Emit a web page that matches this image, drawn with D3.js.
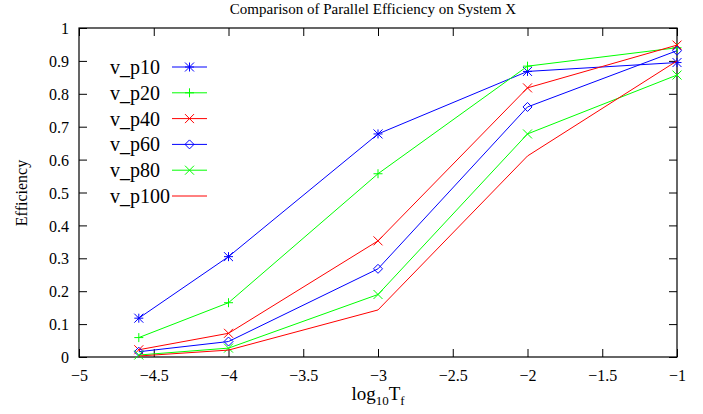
<!DOCTYPE html>
<html>
<head>
<meta charset="utf-8">
<script src="https://cdn.jsdelivr.net/npm/d3@7"></script>
<style>
  html, body { margin: 0; padding: 0; background: #fff; }
  svg { display: block; }
  text { font-family: "Liberation Serif", "Times New Roman", serif; fill: #000; }
</style>
</head>
<body>
<svg id="chart" width="703" height="414"></svg>
<script>
// ---- data ----
const xValues = [-4.6, -4, -3, -2, -1];
const seriesNames = ["v_p10", "v_p20", "v_p40", "v_p60", "v_p80", "v_p100"];
const vP10  = [0.118, 0.305, 0.678, 0.868, 0.895];
const vP20  = [0.059, 0.165, 0.557, 0.884, 0.940];
const vP40  = [0.022, 0.072, 0.353, 0.818, 0.948];
const vP60  = [0.016, 0.047, 0.268, 0.760, 0.931];
const vP80  = [0.006, 0.027, 0.190, 0.678, 0.857];
const vP100 = [0.003, 0.021, 0.143, 0.611, 0.900];
const seriesColors  = ["#0000ff", "#00ff00", "#ff0000", "#0000ff", "#00ff00", "#ff0000"];
const seriesMarkers = ["star", "plus", "cross", "diamond", "cross", "none"];
const xTicks = [-5, -4.5, -4, -3.5, -3, -2.5, -2, -1.5, -1];
const yTicks = [0, 0.1, 0.2, 0.3, 0.4, 0.5, 0.6, 0.7, 0.8, 0.9, 1];
const titleText = "Comparison of Parallel Efficiency on System X";
const yLabelText = "Efficiency";

const allSeries = [vP10, vP20, vP40, vP60, vP80, vP100];

// ---- layout ----
const svg = d3.select("#chart");
const L = 79, R = 677, T = 28, B = 357;
const x = d3.scaleLinear().domain([-5, -1]).range([L, R]);
const y = d3.scaleLinear().domain([0, 1]).range([B, T]);
const tickLen = 8;
const fmtX = d => (d < 0 ? "\u2212" : "") + String(Math.abs(d));
const fmtY = d => String(+d.toFixed(1));

// axes with inward ticks
const axisColor = "#000";
const gB = svg.append("g").attr("transform", `translate(0,${B})`)
  .call(d3.axisBottom(x).tickValues(xTicks).tickSize(-tickLen).tickPadding(10).tickFormat(fmtX));
const gT = svg.append("g").attr("transform", `translate(0,${T})`)
  .call(d3.axisTop(x).tickValues(xTicks).tickSize(-tickLen).tickFormat(""));
const gLft = svg.append("g").attr("transform", `translate(${L},0)`)
  .call(d3.axisLeft(y).tickValues(yTicks).tickSize(-tickLen).tickPadding(10).tickFormat(fmtY));
const gRt = svg.append("g").attr("transform", `translate(${R},0)`)
  .call(d3.axisRight(y).tickValues(yTicks).tickSize(-tickLen).tickFormat(""));
[gB, gT, gLft, gRt].forEach(g => {
  g.attr("font-family", "Liberation Serif");
  g.select(".domain").remove();
  g.selectAll(".tick line").attr("stroke", axisColor).attr("stroke-width", 1);
  g.selectAll(".tick text").attr("font-family", "Liberation Serif").attr("font-size", 16).attr("fill", "#000");
});
gB.selectAll(".tick text").attr("dy", "0.9em");
gLft.selectAll(".tick text").attr("dy", "0.35em");

// border
svg.append("rect").attr("x", L).attr("y", T).attr("width", R - L).attr("height", B - T)
  .attr("fill", "none").attr("stroke", axisColor).attr("stroke-width", 1.2);

// markers
function drawMarker(g, type, cx, cy, color) {
  const s = 4.5;
  const p = d3.path();
  if (type === "plus" || type === "star") {
    p.moveTo(cx - s, cy); p.lineTo(cx + s, cy);
    p.moveTo(cx, cy - s); p.lineTo(cx, cy + s);
  }
  if (type === "cross" || type === "star") {
    p.moveTo(cx - s, cy - s); p.lineTo(cx + s, cy + s);
    p.moveTo(cx - s, cy + s); p.lineTo(cx + s, cy - s);
  }
  if (type === "diamond") {
    p.moveTo(cx, cy - s); p.lineTo(cx + s, cy); p.lineTo(cx, cy + s); p.lineTo(cx - s, cy); p.closePath();
  }
  if (type !== "none") {
    g.append("path").attr("d", p.toString()).attr("fill", "none")
      .attr("stroke", color).attr("stroke-width", 1);
  }
}

const line = d3.line().x(d => x(d[0])).y(d => y(d[1]));
allSeries.forEach((vals, i) => {
  const pts = xValues.map((xv, j) => [xv, vals[j]]);
  const g = svg.append("g");
  g.append("path").attr("d", line(pts)).attr("fill", "none")
    .attr("stroke", seriesColors[i]).attr("stroke-width", 1);
  pts.forEach(pt => drawMarker(g, seriesMarkers[i], x(pt[0]), y(pt[1]), seriesColors[i]));
});

// legend
const legX = 110, legLine0 = 172, legLine1 = 207, legY0 = 67, legDy = 25.8;
seriesNames.forEach((name, i) => {
  const yy = legY0 + i * legDy;
  const g = svg.append("g");
  g.append("text").attr("x", legX).attr("y", yy).attr("dy", "0.35em")
    .attr("font-size", 20).text(name);
  g.append("line").attr("x1", legLine0).attr("x2", legLine1).attr("y1", yy).attr("y2", yy)
    .attr("stroke", seriesColors[i]).attr("stroke-width", 1);
  drawMarker(g, seriesMarkers[i], (legLine0 + legLine1) / 2, yy, seriesColors[i]);
});

// title
svg.append("text").attr("x", 373).attr("y", 14).attr("text-anchor", "middle")
  .attr("font-size", 15).text(titleText);

// x label: log10 Tf
const xl = svg.append("text").attr("x", 378).attr("y", 400).attr("text-anchor", "middle")
  .attr("font-size", 19);
xl.append("tspan").text("log");
xl.append("tspan").attr("font-size", 13).attr("dy", 5).text("10");
xl.append("tspan").attr("dy", -5).text("T");
xl.append("tspan").attr("font-size", 13).attr("dy", 5).text("f");

// y label
svg.append("text").attr("transform", "translate(27,193) rotate(-90)")
  .attr("text-anchor", "middle").attr("font-size", 16).text(yLabelText);
</script>
</body>
</html>
